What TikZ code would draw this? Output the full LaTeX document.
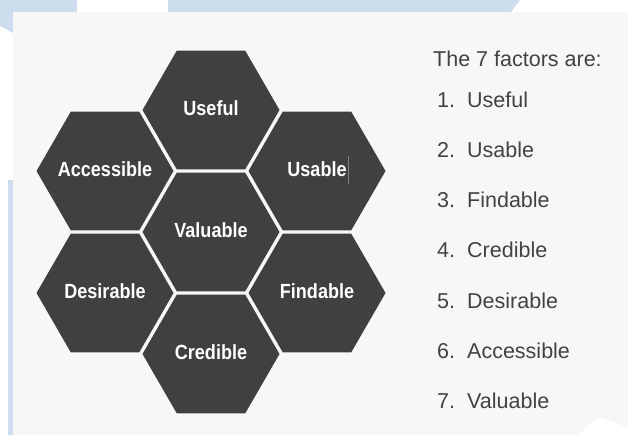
\documentclass[tikz,border=0pt]{standalone}
\usepackage{fontspec}
\setmainfont{Liberation Sans}
\newfontfamily\hexfont[FakeStretch=0.88]{Liberation Sans Bold}
\usetikzlibrary{shapes.geometric}
\definecolor{hexfill}{HTML}{404040}
\definecolor{panel}{HTML}{F7F7F7}
\definecolor{paleblue}{HTML}{CEDDED}
\definecolor{listtext}{HTML}{424242}
\tikzset{
  hexcell/.style={regular polygon, regular polygon sides=6, minimum size=137pt,
    inner sep=0pt, outer sep=0pt, fill=hexfill},
  hexlabel/.style={anchor=base, inner sep=0pt, text=white,
    font=\hexfont\fontsize{20.5}{24}\selectfont},
  listitem/.style={anchor=base west, inner sep=0pt, text=listtext,
    font=\fontsize{21.5}{24}\selectfont},
}
\newcommand{\itemno}[1]{\makebox[30pt][l]{#1}}
\begin{document}
\begin{tikzpicture}[x=1pt,y=-1pt]
  % canvas
  \useasboundingbox (0,0) rectangle (628,435);
  \fill[white] (0,0) rectangle (628,435);
  % pale blue decoration behind the panel
  \fill[paleblue] (0,0) -- (77,0) -- (77,20) -- (13,33) -- (0,26) -- cycle;
  \fill[paleblue] (168,0) -- (520,0) -- (505,20) -- (168,20) -- cycle;
  \fill[paleblue] (8,180) rectangle (13,435);
  % grey panel
  \fill[panel] (13,12) rectangle (628,435);
  \fill[white] (577,435) -- (600,417) -- (628,428) -- (628,435) -- cycle;

  % honeycomb cells
  \node[hexcell] (valuable)   at (211,232) {};
  \node[hexcell] (useful)     at (211,110) {};
  \node[hexcell] (usable)     at (317,171) {};
  \node[hexcell] (findable)   at (317,293) {};
  \node[hexcell] (credible)   at (211,354) {};
  \node[hexcell] (desirable)  at (105,293) {};
  \node[hexcell] (accessible) at (105,171) {};
  % cell labels, baseline a little below each centre
  \node[hexlabel] (lvaluable)   at ([yshift=-5.5pt]valuable.center)   {Valuable};
  \node[hexlabel] (luseful)     at ([yshift=-5.5pt]useful.center)     {Useful};
  \node[hexlabel] (lusable)     at ([yshift=-5.5pt]usable.center)     {Usable};
  \node[hexlabel] (lfindable)   at ([yshift=-5.5pt]findable.center)   {Findable};
  \node[hexlabel] (lcredible)   at ([yshift=-5.5pt]credible.center)   {Credible};
  \node[hexlabel] (ldesirable)  at ([yshift=-5.5pt]desirable.center)  {Desirable};
  \node[hexlabel] (laccessible) at ([yshift=-5.5pt]accessible.center) {Accessible};
  % text cursor after "Usable"
  \coordinate (caretTop) at ([xshift=1.5pt,yshift=20pt]lusable.base east);
  \coordinate (caretBot) at ([xshift=1.5pt,yshift=-8pt]lusable.base east);
  \draw[gray, line width=0.9pt] (caretTop) -- (caretBot);

  % list of factors
  \node[listitem] (title) at (433,67) {The 7 factors are:};
  \node[listitem] (item1) at (437,108) {\itemno{1.}Useful};
  \node[listitem] (item2) at (437,158) {\itemno{2.}Usable};
  \node[listitem] (item3) at (437,208) {\itemno{3.}Findable};
  \node[listitem] (item4) at (437,258) {\itemno{4.}Credible};
  \node[listitem] (item5) at (437,308) {\itemno{5.}Desirable};
  \node[listitem] (item6) at (437,358) {\itemno{6.}Accessible};
  \node[listitem] (item7) at (437,408) {\itemno{7.}Valuable};
\end{tikzpicture}
\end{document}
